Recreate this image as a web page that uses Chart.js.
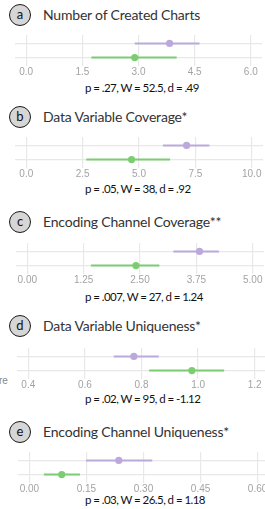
<!DOCTYPE html>
<html>
<head>
<meta charset="utf-8">
<script src="https://cdn.jsdelivr.net/npm/chart.js@4.4.1/dist/chart.umd.min.js"></script>
<style>
  html, body { margin:0; padding:0; background:#fff; }
  body { width:265px; height:509px; overflow:hidden; position:relative; font-family: Lato, "Liberation Sans", sans-serif; }
  .badge { position:absolute; box-sizing:border-box; width:22px; height:22px; border:1.6px solid #1a1a1a; border-radius:50%; background:#d6d6d6; color:#111; font-size:13px; line-height:19px; text-align:center; }
  .title { position:absolute; left:43px; font-size:14px; color:#333; white-space:nowrap; letter-spacing:-0.2px; line-height:20px; }
  .stats { position:absolute; left:85px; font-size:11.5px; color:#111; white-space:nowrap; letter-spacing:-0.55px; line-height:14px; }
  canvas { position:absolute; }
  .stray { position:absolute; font-family:"Liberation Sans", sans-serif; font-size:10px; color:#888; line-height:12px; }
</style>
</head>
<body>
<script>
// ---- data ----
const panelLetters = ['a', 'b', 'c', 'd', 'e'];
const panelTitles = [
  'Number of Created Charts',
  'Data Variable Coverage*',
  'Encoding Channel Coverage**',
  'Data Variable Uniqueness*',
  'Encoding Channel Uniqueness*'
];
const statsTexts = [
  'p = .27, W = 52.5, d = .49',
  'p = .05, W = 38, d = .92',
  'p = .007, W = 27, d = 1.24',
  'p = .02, W = 95, d = -1.12',
  'p = .03, W = 26.5, d = 1.18'
];
const axisLimits = [[0, 6], [0, 10], [0, 5], [0.4, 1.2], [0, 0.6]];
const tickValues = [
  [0, 1.5, 3, 4.5, 6],
  [0, 2.5, 5, 7.5, 10],
  [0, 1.25, 2.5, 3.75, 5],
  [0.4, 0.6, 0.8, 1.0, 1.2],
  [0, 0.15, 0.3, 0.45, 0.6]
];
const tickLabels = [
  ['0.0', '1.5', '3.0', '4.5', '6.0'],
  ['0.0', '2.5', '5.0', '7.5', '10.0'],
  ['0.00', '1.25', '2.50', '3.75', '5.00'],
  ['0.4', '0.6', '0.8', '1.0', '1.2'],
  ['0.00', '0.15', '0.30', '0.45', '0.60']
];
const purpleMean = [3.83, 7.11, 3.82, 0.773, 0.235];
const purpleLow  = [2.90, 6.06, 3.24, 0.702, 0.149];
const purpleHigh = [4.63, 8.12, 4.25, 0.861, 0.323];
const greenMean  = [2.90, 4.67, 2.41, 0.978, 0.085];
const greenLow   = [1.74, 2.66, 1.41, 0.827, 0.038];
const greenHigh  = [4.02, 6.38, 2.93, 1.092, 0.133];

// ---- layout ----
const canvasLeft  = [11, 11, 12, 13, 14];
const canvasWidth = [255, 256, 256, 257, 259];
const canvasTop   = [31, 133, 239, 344, 448];
const titleCenterY = [15, 116.5, 221.5, 326, 431.5];
const statsCenterY = [87.5, 188.5, 296.5, 398.5, 500];
const CANVAS_H = 47;

const purpleColor = '#bba9dc';
const greenColor = '#7ccd72';
const gridColor = '#e8e8e8';

panelTitles.forEach((t, i) => {
  const b = document.createElement('div');
  b.className = 'badge';
  b.style.left = '9px';
  b.style.top = (titleCenterY[i] - 11) + 'px';
  b.textContent = panelLetters[i];
  document.body.appendChild(b);

  const ti = document.createElement('div');
  ti.className = 'title';
  ti.style.top = (titleCenterY[i] - 10) + 'px';
  ti.textContent = t;
  document.body.appendChild(ti);

  const s = document.createElement('div');
  s.className = 'stats';
  s.style.top = (statsCenterY[i] - 7) + 'px';
  s.textContent = statsTexts[i];
  document.body.appendChild(s);

  const c = document.createElement('canvas');
  c.width = canvasWidth[i];
  c.height = CANVAS_H;
  c.style.left = canvasLeft[i] + 'px';
  c.style.top = canvasTop[i] + 'px';
  document.body.appendChild(c);

  const [lo, hi] = axisLimits[i];
  const pad = (hi - lo) * 0.05;
  const vals = tickValues[i];
  const labs = tickLabels[i];

  new Chart(c, {
    type: 'scatter',
    data: {
      datasets: [
        { type: 'line', data: [{x: purpleLow[i], y: 1}, {x: purpleHigh[i], y: 1}], borderColor: purpleColor, borderWidth: 2, pointRadius: 0, fill: false },
        { type: 'line', data: [{x: greenLow[i], y: 0}, {x: greenHigh[i], y: 0}], borderColor: greenColor, borderWidth: 2, pointRadius: 0, fill: false },
        { data: [{x: purpleMean[i], y: 1}], backgroundColor: purpleColor, borderWidth: 0, pointRadius: 3.6 },
        { data: [{x: greenMean[i], y: 0}], backgroundColor: greenColor, borderWidth: 0, pointRadius: 3.6 }
      ]
    },
    options: {
      responsive: false,
      animation: false,
      events: [],
      layout: { padding: 0 },
      plugins: { legend: { display: false }, tooltip: { enabled: false } },
      scales: {
        x: {
          type: 'linear', min: lo - pad, max: hi + pad,
          afterBuildTicks: sc => { sc.ticks = vals.map(v => ({ value: v })); },
          ticks: {
            callback: (v) => { const k = vals.findIndex(t => Math.abs(t - v) < 1e-9); return k >= 0 ? labs[k] : ''; },
            color: '#a3a3a3', font: { family: 'Liberation Sans', size: 10 }, padding: 0, maxRotation: 0, autoSkip: false
          },
          grid: { color: gridColor, lineWidth: 1.2, drawTicks: false },
          border: { display: false }
        },
        y: {
          type: 'linear', min: -0.6, max: 1.6,
          afterBuildTicks: sc => { sc.ticks = [{ value: 0 }, { value: 1 }]; },
          ticks: { display: false },
          grid: { color: gridColor, lineWidth: 1.2, drawTicks: false },
          border: { display: false }
        }
      }
    }
  });
});

const stray = document.createElement('div');
stray.className = 'stray';
stray.style.left = '-1px';
stray.style.top = '375px';
stray.textContent = 're';
document.body.appendChild(stray);
</script>
</body>
</html>
